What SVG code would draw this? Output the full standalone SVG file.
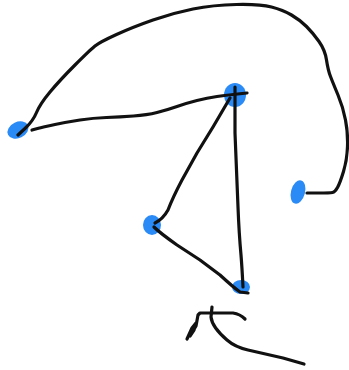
<svg xmlns="http://www.w3.org/2000/svg" width="349" height="370" viewBox="0 0 349 370">
<style>
.n{fill:#2a8af6}
.e{fill:none;stroke:#111;stroke-width:3.2;stroke-linecap:round;stroke-linejoin:round}
</style>
<rect width="349" height="370" fill="#fff"/>
<g id="node-left"><ellipse class="n" cx="18" cy="130" rx="11" ry="8" transform="rotate(-25 18 130)"/></g>
<g id="node-top"><ellipse class="n" cx="235" cy="95" rx="11" ry="12"/></g>
<g id="node-right"><ellipse class="n" cx="298" cy="192" rx="7" ry="12" transform="rotate(15 298 192)"/></g>
<g id="node-mid"><ellipse class="n" cx="152" cy="225" rx="9" ry="10"/></g>
<g id="node-bottom"><ellipse class="n" cx="241" cy="287" rx="9" ry="7"/></g>
<g id="connectors">
<path class="e" d="M18,135 L25.5,128 Q33,121 36.5,112.5 Q40,104 50,92 Q60,80 75,65 Q90,50 95,46 Q100,42 116.5,34.5 Q133,27 153,20 Q173,13 193,9 Q213,5 236.5,4.5 Q260,4 271.5,7 Q283,10 291.5,15 Q300,20 306.5,26.5 Q313,33 319,41.5 Q325,50 326.5,60 Q328,70 330.5,76.5 Q333,83 338,95 Q343,107 345.5,120 Q348,133 347.5,146.5 Q347,160 343.5,171.5 Q340,183 337.5,187.5 Q335,192 332.5,192.5 Q330,193 318.5,193 L307,193"/>
<path class="e" d="M32,130 L37.5,128.5 Q43,127 55,124.5 Q67,122 80,120 Q93,118 106.5,117.5 Q120,117 133.5,116 Q147,115 157,112.5 Q167,110 177,106.5 Q187,103 197,100.5 Q207,98 217,96.5 Q227,95 247,93"/>
<path class="e" d="M235,87 L235,133 Q237,180 238,207 Q239,233 241,255 Q242,267 243,287"/>
<path class="e" d="M230,98 L213,127 L197,153 L182,180 Q173,197 168,210 Q163,219 155,223"/>
<path class="e" d="M154,227 Q160,233 177,245 L200,260 L220,275 Q233,287 240,292 L248,293"/>
<path class="e" d="M187,339 L192,328 L196,323 L194,330 L190,336 L196,326 L198,315 L200,313 L213,313 L233,313 Q240,314 245,319"/>
<path class="e" d="M212,307 L211,317 Q212,327 227,340 Q235,347 248,350 L283,358 L304,364"/>
</g>
</svg>
